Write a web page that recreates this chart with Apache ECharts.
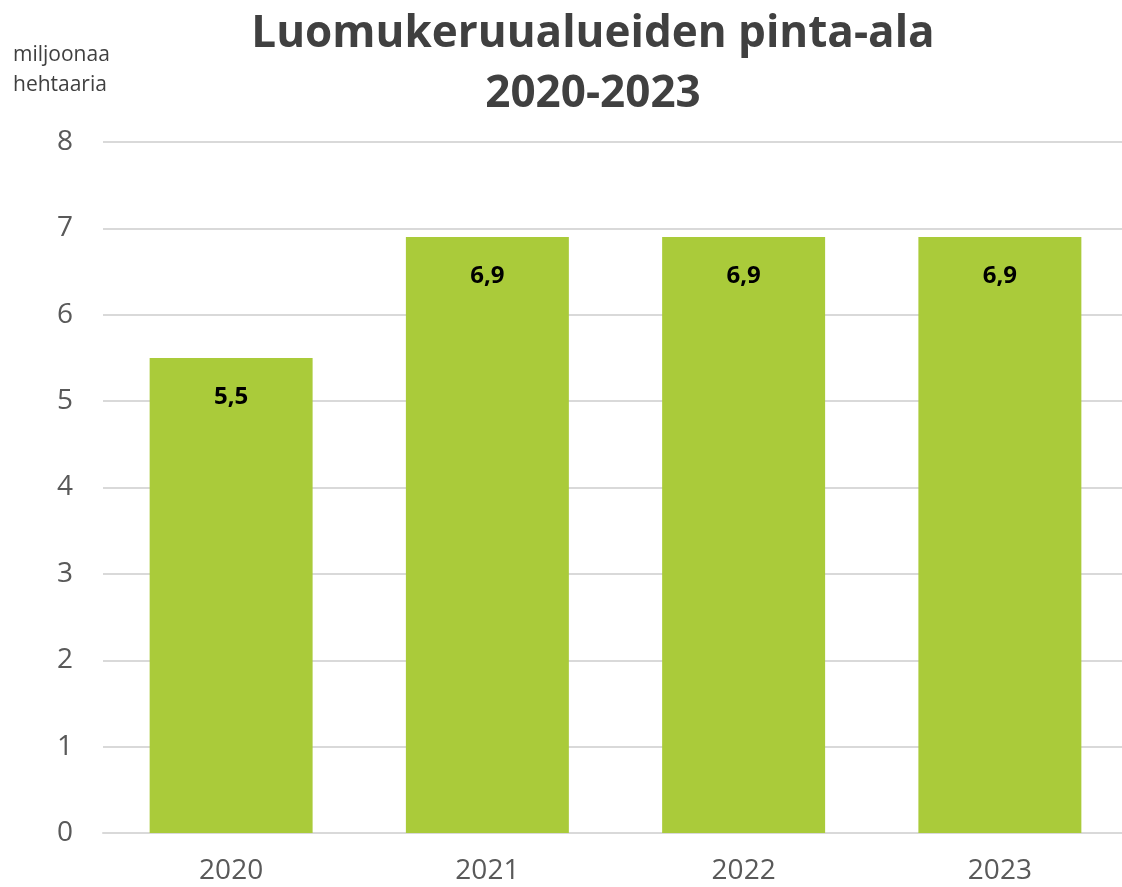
<!DOCTYPE html>
<html>
<head>
    <meta charset="utf-8">
    <title>Luomukeruualueiden pinta-ala</title>
    <script src="https://cdn.jsdelivr.net/npm/echarts@6/dist/echarts.min.js"></script>
    <style>
        html, body { margin: 0; padding: 0; background: #ffffff; }
        #chart { width: 1122px; height: 887px; }
    </style>
</head>
<body>
<div id="chart"></div>
<script>
    // data
    var years = ['2020', '2021', '2022', '2023'];
    var areaValues = [5.5, 6.9, 6.9, 6.9];
    var unitLabel = 'miljoonaa\nhehtaaria';

    var chart = echarts.init(document.getElementById('chart'));
    var font = '"Open Sans", "Noto Sans", sans-serif';

    var option = {
        animation: false,
        backgroundColor: '#ffffff',
        title: {
            text: 'Luomukeruualueiden pinta-ala\n2020-2023',
            left: 588,
            top: -1,
            textAlign: 'center',
            textStyle: {
                fontFamily: font,
                fontSize: 44,
                fontWeight: 'bold',
                color: '#404040',
                lineHeight: 60
            }
        },
        grid: {
            left: 103,
            top: 142,
            width: 1025,
            height: 691,
            containLabel: false,
            outerBoundsMode: 'none'
        },
        xAxis: {
            type: 'category',
            data: years,
            axisTick: { show: false },
            axisLine: { lineStyle: { color: '#d9d9d9', width: 2 } },
            axisLabel: {
                fontFamily: font,
                fontSize: 28,
                color: '#595959',
                margin: 24
            }
        },
        yAxis: {
            type: 'value',
            min: 0,
            max: 8,
            interval: 1,
            name: unitLabel,
            nameLocation: 'end',
            nameGap: 0,
            nameTextStyle: {
                fontFamily: font,
                fontSize: 21,
                color: '#404040',
                align: 'left',
                lineHeight: 30,
                padding: [0, 0, 28, -90]
            },
            axisLine: { show: false },
            axisTick: { show: false },
            splitLine: { lineStyle: { color: '#d9d9d9', width: 2 } },
            axisLabel: {
                fontFamily: font,
                fontSize: 28,
                color: '#595959',
                margin: 30
            }
        },
        series: [{
            type: 'bar',
            data: areaValues,
            barWidth: '63.6%',
            itemStyle: { color: '#aacb3a' },
            label: {
                show: true,
                position: 'insideTop',
                distance: 27,
                fontFamily: font,
                fontSize: 24,
                fontWeight: 'bold',
                color: '#000000',
                formatter: function (p) {
                    return String(p.value.toFixed(1)).replace('.', ',');
                }
            }
        }]
    };
    chart.setOption(option);
</script>
</body>
</html>
